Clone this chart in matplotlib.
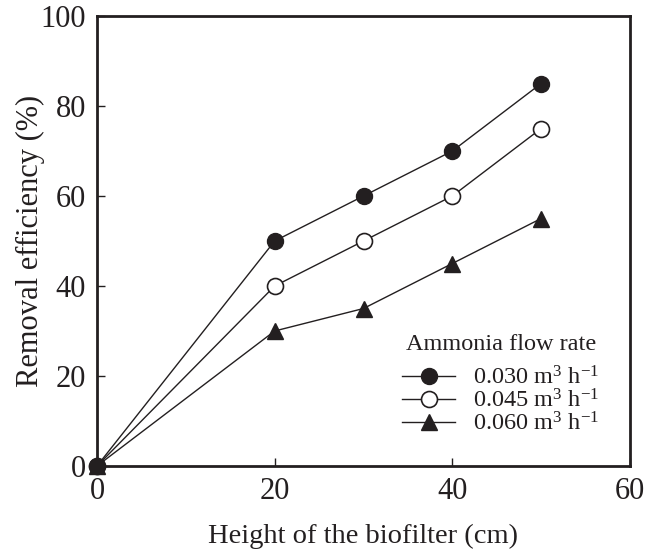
import matplotlib
matplotlib.use("Agg")
import matplotlib.pyplot as plt

height_cm = [0, 20, 30, 40, 50]
eff_030 = [0, 50, 60, 70, 85]
eff_045 = [0, 40, 50, 60, 75]
eff_060 = [0, 30, 35, 45, 55]
series_labels = [r"0.030 m$^{3}$ h$^{-1}$", r"0.045 m$^{3}$ h$^{-1}$", r"0.060 m$^{3}$ h$^{-1}$"]
x_ticks = [0, 20, 40, 60]
y_ticks = [0, 20, 40, 60, 80, 100]

plt.rcParams["font.family"] = ["Liberation Serif", "DejaVu Serif"]
plt.rcParams["mathtext.fontset"] = "custom"
plt.rcParams["mathtext.rm"] = "Liberation Serif"
plt.rcParams["mathtext.it"] = "Liberation Serif:italic"

fig = plt.figure(figsize=(6.46, 5.49), dpi=100)
ax = fig.add_axes([97/646, 1-466/549, (630-97)/646, (466-16)/549])

c = "#231f20"
ax.plot(height_cm, eff_030, "-o", color=c, mfc=c, mec=c, ms=11.5, lw=1.0, label=series_labels[0], clip_on=False, zorder=5)
ax.plot(height_cm, eff_045, "-o", color=c, mfc="white", mec=c, ms=11.5, mew=1.2, lw=1.0, label=series_labels[1], clip_on=False, zorder=3)
ax.plot(height_cm, eff_060, "-^", color=c, mfc=c, mec=c, ms=11.5, lw=1.0, label=series_labels[2], clip_on=False, zorder=4)

ax.set_xlim(0, 60)
ax.set_ylim(0, 100)
ax.set_xticks(x_ticks)
ax.set_yticks(y_ticks)
ax.tick_params(direction="in", length=6, width=1, labelsize=22, color=c, labelcolor=c, pad=8, top=False, right=False)
for s in ax.spines.values():
    s.set_linewidth(2)
    s.set_color(c)

ax.set_xlabel("Height of the biofilter (cm)", fontsize=20.5, color=c, labelpad=13)
ax.set_ylabel("Removal efficiency (%)", fontsize=22, color=c, labelpad=-3)

leg = ax.legend(title="Ammonia flow rate", loc="lower right", bbox_to_anchor=(0.975, 0.029), frameon=False,
                fontsize=17.5, title_fontsize=17.5, handlelength=2.2, handletextpad=0.75, labelspacing=0.0, borderpad=0.2)
leg._legend_box.sep = 8
for t in leg.get_texts():
    t.set_color(c)
leg.get_title().set_color(c)

fig.savefig("out.png", dpi=100)
